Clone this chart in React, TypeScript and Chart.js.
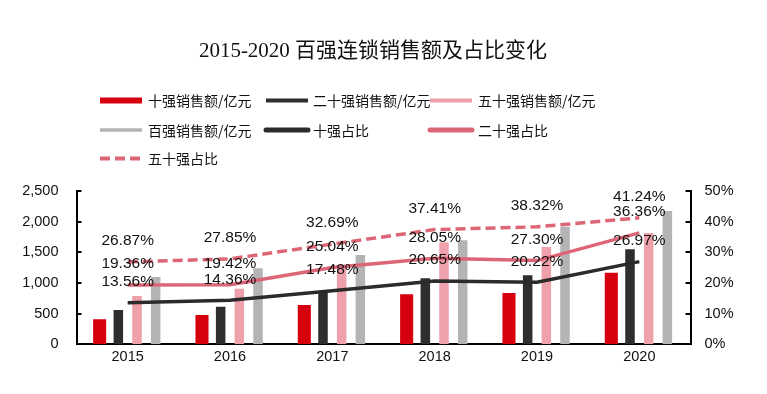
import React, { useEffect, useRef } from "react";
import { Chart, registerables } from "chart.js";

Chart.register(...registerables);

const years = ["2015", "2016", "2017", "2018", "2019", "2020"];
const top10Sales = [408, 478, 641, 815, 837, 1168];
const top20Sales = [559, 613, 858, 1076, 1125, 1549];
const top50Sales = [788, 907, 1290, 1665, 1587, 1815];
const top100Sales = [1097, 1239, 1456, 1696, 1918, 2174];
const top10Share = [13.56, 14.36, 17.48, 20.65, 20.22, 26.97];
const top20Share = [19.36, 19.42, 25.04, 28.05, 27.3, 36.36];
const top50Share = [26.87, 27.85, 32.69, 37.41, 38.32, 41.24];
const seriesNames = [
  "十强销售额/亿元",
  "二十强销售额/亿元",
  "五十强销售额/亿元",
  "百强销售额/亿元",
  "十强占比",
  "二十强占比",
  "五十强占比",
];
const titleText = "2015-2020 百强连锁销售额及占比变化";

const RED = "#D7000F";
const DARK = "#2E2E2E";
const PINK_BAR = "#EFA1AB";
const GRAY = "#B4B4B4";
const LINE_BLACK = "#2B2B2B";
const LINE_PINK = "#DD6676";

const SANS = '"Liberation Sans", Arial, "Noto Sans CJK SC", sans-serif';
const CJK = '"Noto Sans CJK SC", "Liberation Sans", sans-serif';

const legendStyles = [
  { w: 6, cap: "butt" },
  { w: 4, cap: "butt" },
  { w: 4, cap: "butt" },
  { w: 3.5, cap: "butt" },
  { w: 5, cap: "round" },
  { w: 5, cap: "round" },
  { w: 4, cap: "butt" },
];

const overlayPlugin = {
  id: "overlay",
  afterDatasetsDraw(chart: any) {
    const ctx = chart.ctx;
    ctx.save();
    const area = chart.chartArea;
    ctx.strokeStyle = "#000";
    ctx.lineWidth = 2;
    const ys = chart.scales.y;
    ys.ticks.forEach((t: any) => {
      const py = Math.round(ys.getPixelForValue(t.value));
      ctx.beginPath();
      ctx.moveTo(area.left, py);
      ctx.lineTo(area.left + 5, py);
      ctx.stroke();
    });
    const y1 = chart.scales.y1;
    y1.ticks.forEach((t: any) => {
      const py = Math.round(y1.getPixelForValue(t.value));
      ctx.beginPath();
      ctx.moveTo(area.right - 5, py);
      ctx.lineTo(area.right, py);
      ctx.stroke();
    });
    ctx.font = "15.5px " + SANS;
    ctx.fillStyle = "#111";
    ctx.textAlign = "center";
    ctx.textBaseline = "middle";
    chart.data.datasets.forEach((ds: any, di: number) => {
      if (ds.type !== "line") return;
      const meta = chart.getDatasetMeta(di);
      meta.data.forEach((pt: any, i: number) => {
        const v = ds.data[i] as number;
        ctx.fillText(v.toFixed(2) + "%", pt.x, pt.y - 21);
      });
    });
    ctx.restore();
  },
  afterDraw(chart: any) {
    const ctx = chart.ctx;
    ctx.save();
    ctx.font = '21px "Liberation Serif", "Noto Sans CJK SC", serif';
    ctx.fillStyle = "#111";
    ctx.textAlign = "center";
    ctx.textBaseline = "middle";
    ctx.fillText(titleText, 373, 51);
    const colSwatch = [100, 266, 430];
    const colText = [148, 313, 478];
    const rowY = [100.5, 130, 158.5];
    ctx.font = "14px " + CJK;
    ctx.textAlign = "left";
    chart.data.datasets.forEach((ds: any, i: number) => {
      const c = i % 3;
      const r = Math.floor(i / 3);
      const y = rowY[r];
      const st = legendStyles[i];
      ctx.save();
      ctx.strokeStyle = ds.type === "line" ? ds.borderColor : ds.backgroundColor;
      ctx.lineWidth = st.w;
      ctx.lineCap = st.cap;
      if (ds.borderDash) ctx.setLineDash([10, 5]);
      ctx.beginPath();
      const x0 = colSwatch[c];
      ctx.moveTo(x0, y);
      ctx.lineTo(x0 + 42, y);
      ctx.stroke();
      ctx.restore();
      ctx.fillStyle = "#111";
      ctx.fillText(ds.label, colText[c], y + 0.5);
    });
    ctx.restore();
  },
};

export default function App() {
  const ref = useRef<HTMLCanvasElement>(null);
  useEffect(() => {
    if (!ref.current) return;
    const barCommon = { yAxisID: "y", order: 2, categoryPercentage: 0.73, borderWidth: 0 };
    const lineCommon = {
      type: "line",
      yAxisID: "y1",
      order: 0,
      borderWidth: 3.5,
      pointRadius: 0,
      pointHoverRadius: 0,
      tension: 0,
      fill: false,
    };
    const chart = new Chart(ref.current, {
      type: "bar",
      data: {
        labels: years,
        datasets: [
          { ...barCommon, type: "bar", label: seriesNames[0], data: top10Sales, backgroundColor: RED, barPercentage: 0.7 },
          { ...barCommon, type: "bar", label: seriesNames[1], data: top20Sales, backgroundColor: DARK, barPercentage: 0.51 },
          { ...barCommon, type: "bar", label: seriesNames[2], data: top50Sales, backgroundColor: PINK_BAR, barPercentage: 0.51 },
          { ...barCommon, type: "bar", label: seriesNames[3], data: top100Sales, backgroundColor: GRAY, barPercentage: 0.51 },
          { ...lineCommon, label: seriesNames[4], data: top10Share, borderColor: LINE_BLACK },
          { ...lineCommon, label: seriesNames[5], data: top20Share, borderColor: LINE_PINK },
          { ...lineCommon, label: seriesNames[6], data: top50Share, borderColor: LINE_PINK, borderDash: [10, 5] },
        ] as any,
      },
      options: {
        animation: false,
        responsive: true,
        maintainAspectRatio: false,
        layout: { padding: { top: 191, bottom: 25.7, left: 0, right: 0 } },
        plugins: {
          legend: { display: false },
          title: { display: false },
          tooltip: { enabled: false },
        },
        scales: {
          x: {
            grid: { display: false, drawTicks: false },
            border: { display: true, color: "#000", width: 2 },
            ticks: { font: { size: 14.5, family: SANS }, color: "#111", padding: 4 },
            afterFit: (s: any) => {
              s.height = 24;
            },
          },
          y: {
            position: "left",
            min: 0,
            max: 2500,
            grid: { display: false, drawTicks: false },
            border: { display: true, color: "#000", width: 2 },
            ticks: {
              stepSize: 500,
              padding: 18,
              font: { size: 14.5, family: SANS },
              color: "#111",
              callback: (v: any) => Number(v).toLocaleString("en-US"),
            },
            afterFit: (s: any) => {
              s.width = 76.5;
            },
          },
          y1: {
            position: "right",
            min: 0,
            max: 50,
            grid: { display: false, drawTicks: false },
            border: { display: true, color: "#000", width: 2 },
            ticks: {
              stepSize: 10,
              padding: 14,
              font: { size: 14.5, family: SANS },
              color: "#111",
              callback: (v: any) => v + "%",
            },
            afterFit: (s: any) => {
              s.width = 76.5;
            },
          },
        },
      } as any,
      plugins: [overlayPlugin],
    });
    return () => chart.destroy();
  }, []);
  return (
    <div style={{ position: "fixed", left: 0, top: 0, width: 767, height: 394, background: "#fff" }}>
      <canvas ref={ref} />
    </div>
  );
}
